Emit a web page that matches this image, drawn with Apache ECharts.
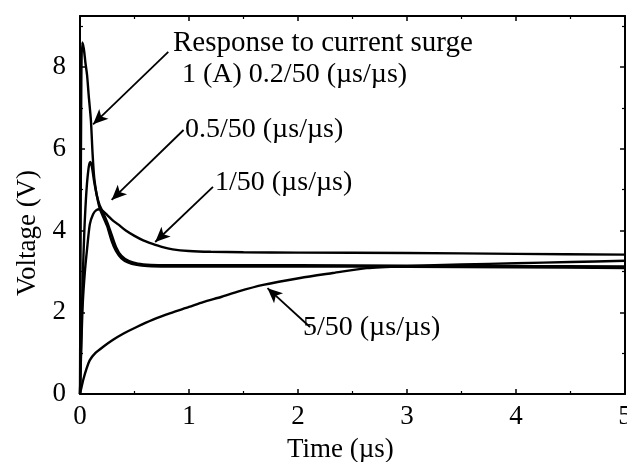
<!DOCTYPE html>
<html>
<head>
<meta charset="utf-8">
<script src="https://cdn.jsdelivr.net/npm/echarts@6/dist/echarts.min.js"></script>
<style>html,body{margin:0;padding:0;background:#fff}#c{width:627px;height:462px}</style>
</head>
<body>
<div id="c"></div>
<script>
// ---- data ----
const xTicks = [0, 1, 2, 3, 4, 5];
const yTicks = [0, 2, 4, 6, 8];

// 1 (A) 0.2/50 (µs/µs)
const tA = [0, 0.005, 0.012, 0.02, 0.035, 0.05, 0.065, 0.08, 0.1, 0.115, 0.13, 0.155, 0.18, 0.21, 0.25, 0.29, 0.33, 0.38, 0.44, 0.52, 0.62, 0.8, 1, 2, 3, 4, 5];
const vA = [0, 3.5, 7.6, 8.6, 8.45, 8.1, 7.8, 7.3, 6.7, 5.9, 5.3, 4.85, 4.55, 4.35, 4.1, 3.75, 3.5, 3.32, 3.22, 3.16, 3.13, 3.12, 3.12, 3.12, 3.11, 3.1, 3.08];
// 0.5/50 (µs/µs)
const tB = [0, 0.01, 0.025, 0.04, 0.06, 0.08, 0.095, 0.11, 0.13, 0.155, 0.18, 0.21, 0.25, 0.29, 0.33, 0.38, 0.45, 0.53, 0.65, 0.8, 1, 2, 3, 4, 5];
const vB = [0, 1.2, 2.8, 4.0, 5.0, 5.55, 5.68, 5.55, 5.2, 4.85, 4.62, 4.45, 4.2, 3.9, 3.6, 3.38, 3.25, 3.19, 3.16, 3.15, 3.15, 3.15, 3.14, 3.13, 3.12];
// 1/50 (µs/µs)
const tC = [0, 0.01, 0.025, 0.045, 0.065, 0.09, 0.12, 0.15, 0.18, 0.21, 0.25, 0.3, 0.35, 0.42, 0.5, 0.58, 0.66, 0.75, 0.85, 1.0, 1.2, 1.5, 2, 3, 4, 5];
const vC = [0, 1.0, 2.2, 3.0, 3.55, 4.15, 4.4, 4.5, 4.52, 4.48, 4.38, 4.25, 4.15, 4.0, 3.87, 3.76, 3.68, 3.6, 3.54, 3.5, 3.48, 3.47, 3.46, 3.45, 3.43, 3.41];
// 5/50 (µs/µs)
const tD = [0, 0.01, 0.03, 0.06, 0.09, 0.14, 0.21, 0.3, 0.4, 0.52, 0.67, 0.83, 1.0, 1.13, 1.3, 1.44, 1.68, 2.02, 2.32, 2.63, 3.0, 3.5, 4.0, 4.5, 5.0];
const vD = [0, 0.12, 0.35, 0.62, 0.83, 1.0, 1.15, 1.32, 1.48, 1.64, 1.82, 1.98, 2.13, 2.25, 2.38, 2.5, 2.67, 2.84, 2.96, 3.08, 3.13, 3.17, 3.2, 3.23, 3.26];

// annotation arrows: [fromT, fromV, toT, toV]
const arrowA = [0.81, 8.37, 0.12, 6.6];
const arrowB = [0.95, 6.46, 0.29, 4.75];
const arrowC = [1.22, 5.07, 0.69, 3.72];
const arrowD = [2.11, 1.64, 1.72, 2.59];

const annTexts = ['Response to current surge', '1 (A) 0.2/50 (\u00b5s/\u00b5s)', '0.5/50 (\u00b5s/\u00b5s)', '1/50 (\u00b5s/\u00b5s)', '5/50 (\u00b5s/\u00b5s)'];

// ---- chart ----
const FONT = '"Liberation Serif", "Times New Roman", serif';
const zip = (t, v) => t.map((x, i) => [x, v[i]]);
const arrowSeg = a => [{coord: [a[0], a[1]]}, {coord: [a[2], a[3]]}];

const lineSeries = (name, t, v, extra) => Object.assign({
  name, type: 'line', data: zip(t, v), showSymbol: false, smooth: 0.25,
  lineStyle: {color: '#000', width: 2.4}, silent: true, animation: false
}, extra || {});

const axisCommon = {
  axisLine: {show: true, onZero: false, lineStyle: {color: '#000', width: 2}},
  axisTick: {show: true, inside: true, length: 5, lineStyle: {color: '#000', width: 1.5}},
  minorTick: {show: true, splitNumber: 2, length: 3, lineStyle: {color: '#000', width: 1.2}},
  splitLine: {show: false}
};

const chart = echarts.init(document.getElementById('c'), null, {renderer: 'canvas'});
chart.setOption({
  backgroundColor: '#fff',
  animation: false,
  grid: {left: 80, right: 2, top: 16, bottom: 68, containLabel: false, outerBoundsMode: 'none'},
  xAxis: [
    Object.assign({type: 'value', min: 0, max: 5, interval: 1, position: 'bottom',
      axisLabel: {show: true, margin: 9, color: '#000', fontFamily: FONT, fontSize: 27,
        formatter: v => xTicks.indexOf(v) >= 0 ? String(v) : ''}}, axisCommon),
    Object.assign({type: 'value', min: 0, max: 5, interval: 1, position: 'top',
      axisLabel: {show: false}}, axisCommon)
  ],
  yAxis: [
    Object.assign({type: 'value', min: 0, max: 9.25, interval: 2, position: 'left',
      axisLabel: {show: true, margin: 14, color: '#000', fontFamily: FONT, fontSize: 27,
        formatter: v => yTicks.indexOf(v) >= 0 ? String(v) : ''}}, axisCommon),
    Object.assign({type: 'value', min: 0, max: 9.25, interval: 2, position: 'right',
      axisLabel: {show: false}}, axisCommon)
  ],
  series: [
    lineSeries('0.2/50', tA, vA, {
      markLine: {
        silent: true, animation: false,
        symbol: ['none', 'arrow'], symbolSize: [10, 15],
        label: {show: false},
        lineStyle: {color: '#000', width: 1.8, type: 'solid'},
        emphasis: {disabled: true},
        data: [arrowSeg(arrowA), arrowSeg(arrowB), arrowSeg(arrowC), arrowSeg(arrowD)]
      }
    }),
    lineSeries('0.5/50', tB, vB),
    lineSeries('1/50', tC, vC),
    lineSeries('5/50', tD, vD)
  ],
  graphic: [
    {type: 'text', left: 173, top: 29, style: {text: annTexts[0], font: '29px ' + FONT, fill: '#000'}},
    {type: 'text', left: 182, top: 61, style: {text: annTexts[1], font: '28px ' + FONT, fill: '#000'}},
    {type: 'text', left: 185, top: 116, style: {text: annTexts[2], font: '28px ' + FONT, fill: '#000'}},
    {type: 'text', left: 215, top: 169, style: {text: annTexts[3], font: '28px ' + FONT, fill: '#000'}},
    {type: 'text', left: 303, top: 314, style: {text: annTexts[4], font: '28px ' + FONT, fill: '#000'}},
    {type: 'text', left: 287, top: 436, style: {text: 'Time (\u00b5s)', font: '27px ' + FONT, fill: '#000'}},
    {type: 'text', x: 28, y: 233, rotation: Math.PI / 2,
      style: {text: 'Voltage (V)', font: '27px ' + FONT, fill: '#000', align: 'center', verticalAlign: 'middle'}}
  ]
});
</script>
</body>
</html>
